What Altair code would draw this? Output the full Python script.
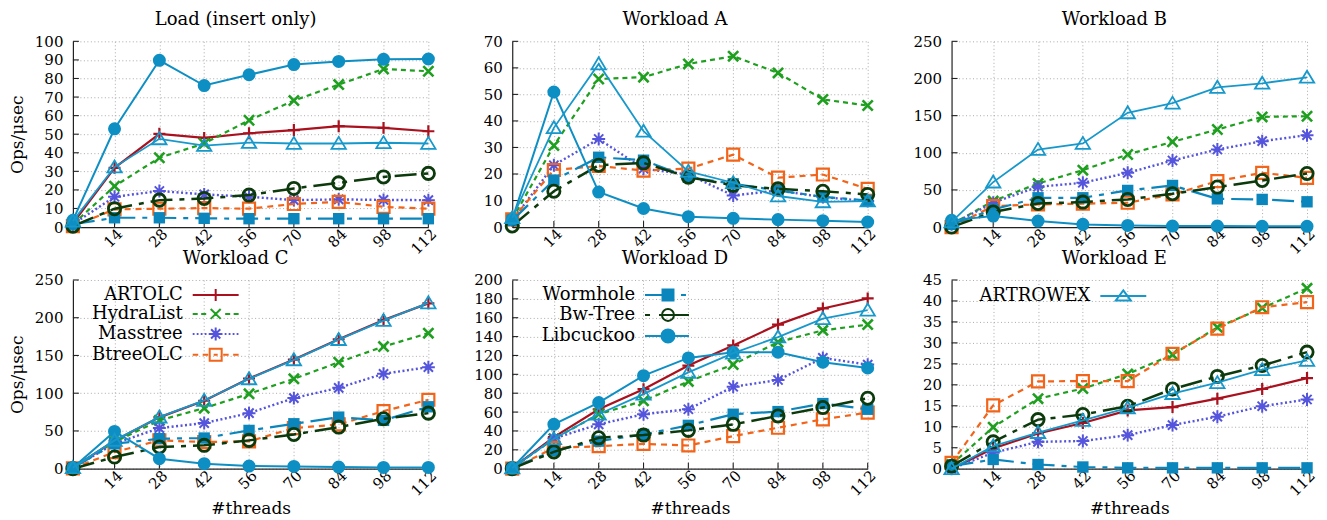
import altair as alt
import pandas as pd

FONT = "DejaVu Serif"

THREADS = [1, 14, 28, 42, 56, 70, 84, 98, 112]
X_TICKS = [14, 28, 42, 56, 70, 84, 98, 112]
SERIES = ["ARTOLC", "HydraList", "Masstree", "BtreeOLC",
          "Wormhole", "Bw-Tree", "Libcuckoo", "ARTROWEX"]

# ---------------- values ----------------
load_artolc = [2.0, 31.9, 50.2, 48.0, 50.5, 52.2, 54.3, 53.4, 51.6]
load_hydra = [1.5, 22.0, 37.3, 45.0, 57.5, 68.1, 76.7, 85.1, 83.9]
load_mass = [1.5, 16.3, 19.4, 17.6, 16.3, 14.5, 14.9, 14.6, 14.5]
load_btree = [0.5, 9.5, 9.9, 10.2, 9.9, 12.4, 13.6, 10.9, 9.9]
load_worm = [1.5, 5.0, 5.0, 4.7, 4.5, 4.5, 4.5, 4.5, 4.5]
load_bw = [0.5, 9.9, 14.5, 15.4, 17.2, 20.8, 23.8, 27.0, 28.9]
load_cuckoo = [3.6, 52.9, 89.8, 76.2, 82.0, 87.5, 89.2, 90.3, 90.5]
load_rowex = [3.2, 32.3, 47.5, 43.9, 45.5, 45.0, 45.0, 45.4, 45.0]

a_hydra = [2.9, 30.7, 55.8, 56.5, 61.5, 64.4, 58.1, 48.1, 45.8]
a_mass = [2.5, 23.3, 33.2, 22.0, 19.8, 11.9, 13.8, 11.3, 9.8]
a_btree = [2.9, 21.5, 23.0, 21.3, 22.0, 27.3, 18.6, 19.8, 14.4]
a_worm = [2.5, 17.7, 26.3, 25.2, 18.8, 16.3, 13.8, 11.4, 10.0]
a_bw = [0.4, 13.5, 23.3, 24.2, 18.8, 15.7, 14.4, 13.5, 12.3]
a_cuckoo = [2.9, 50.9, 13.2, 7.0, 3.9, 3.3, 2.8, 2.4, 1.9]
a_rowex = [3.5, 37.4, 61.5, 36.1, 21.0, 16.7, 11.7, 9.5, 9.8]

b_hydra = [3.6, 35.0, 58.7, 76.6, 97.7, 114.7, 131.3, 148.3, 149.2]
b_mass = [3.6, 32.7, 54.2, 59.6, 73.0, 89.6, 104.4, 115.6, 123.7]
b_btree = [0.0, 28.2, 30.5, 31.4, 32.7, 43.9, 61.8, 73.0, 66.3]
b_worm = [3.6, 23.7, 39.4, 39.4, 49.3, 56.0, 38.0, 37.2, 34.0]
b_bw = [0.0, 20.2, 31.8, 33.6, 37.2, 44.8, 53.8, 62.7, 72.1]
b_cuckoo = [9.0, 14.8, 8.1, 3.6, 2.2, 1.3, 1.3, 1.0, 1.0]
b_rowex = [7.0, 60.5, 104.4, 112.5, 153.7, 166.7, 188.0, 193.5, 201.6]

c_artolc = [1.3, 37.0, 68.0, 90.0, 119.5, 144.5, 171.5, 197.0, 219.0]
c_hydra = [1.3, 35.3, 64.0, 80.2, 99.2, 119.0, 141.0, 161.8, 179.5]
c_mass = [1.3, 33.0, 53.8, 60.4, 73.6, 93.5, 107.1, 125.7, 134.5]
c_btree = [0.5, 22.0, 37.5, 35.3, 36.2, 53.8, 58.6, 76.3, 91.3]
c_worm = [1.3, 33.0, 39.7, 40.6, 50.7, 59.5, 68.3, 64.0, 82.0]
c_bw = [0.0, 15.4, 28.7, 30.9, 37.5, 45.4, 55.1, 66.1, 73.6]
c_cuckoo = [1.3, 49.4, 13.2, 6.6, 3.5, 3.0, 2.2, 1.7, 1.7]
c_rowex = [1.3, 37.5, 68.3, 90.4, 119.0, 144.2, 171.0, 196.2, 219.6]

d_artolc = [0.7, 33.5, 63.0, 84.3, 109.3, 130.6, 152.7, 169.8, 180.4]
d_hydra = [0.7, 31.7, 57.7, 71.9, 92.5, 110.3, 134.2, 146.6, 152.7]
d_mass = [0.7, 32.0, 47.0, 57.7, 63.0, 86.8, 94.0, 117.4, 110.3]
d_btree = [0.0, 22.0, 23.8, 26.3, 24.6, 34.5, 43.4, 52.3, 59.4]
d_worm = [0.7, 19.2, 29.2, 36.3, 45.9, 57.7, 60.5, 69.0, 63.0]
d_bw = [0.0, 17.8, 32.7, 35.6, 40.6, 47.0, 55.9, 64.8, 74.7]
d_cuckoo = [0.7, 47.0, 70.1, 98.6, 117.4, 123.5, 123.5, 112.8, 106.8]
d_rowex = [0.7, 31.7, 57.7, 79.0, 102.1, 122.4, 139.5, 159.0, 168.0]

e_artolc = [0.0, 4.8, 8.4, 10.9, 13.9, 14.7, 16.7, 19.0, 21.6]
e_hydra = [1.0, 9.9, 16.7, 19.1, 22.6, 27.2, 33.7, 38.3, 43.0]
e_mass = [0.0, 3.8, 6.4, 6.6, 8.0, 10.4, 12.4, 14.9, 16.5]
e_btree = [1.4, 15.1, 20.8, 20.9, 20.9, 27.4, 33.4, 38.5, 39.7]
e_worm = [0.6, 2.2, 1.0, 0.4, 0.2, 0.2, 0.2, 0.2, 0.2]
e_bw = [0.6, 6.4, 11.7, 12.9, 14.9, 19.0, 22.0, 24.6, 27.8]
e_rowex = [0.0, 5.4, 8.6, 11.5, 14.5, 17.9, 20.5, 23.6, 25.8]

load_yticks = [0, 10, 20, 30, 40, 50, 60, 70, 80, 90, 100]
a_yticks = [0, 10, 20, 30, 40, 50, 60, 70]
b_yticks = [0, 50, 100, 150, 200, 250]
c_yticks = [0, 50, 100, 150, 200, 250]
d_yticks = [0, 20, 40, 60, 80, 100, 120, 140, 160, 180, 200]
e_yticks = [0, 5, 10, 15, 20, 25, 30, 35, 40, 45]

# ---------------- styles ----------------
PLUS = "M-1,0H1M0,-1V1"
CROSS = "M-0.85,-0.85L0.85,0.85M-0.85,0.85L0.85,-0.85"
STAR = ("M-1.08,0H1.08M0,-1.08V1.08M-0.77,-0.77L0.77,0.77"
        "M-0.77,0.77L0.77,-0.77")
SQUARE = "M-1,-1H1V1H-1Z"
FSQUARE = "M-0.95,-0.95H0.95V0.95H-0.95Z"
TRI = "M0,-1.1L1.2,0.9L-1.2,0.9Z"

STYLE = {
    "ARTOLC":    dict(color="#a8111d", dash=None, lw=2.2, shape=PLUS, size=144, filled=False, mw=2.2),
    "HydraList": dict(color="#1f9f1f", dash=[5, 4], lw=2.2, shape=CROSS, size=144, filled=False, mw=2.6),
    "Masstree":  dict(color="#5454dc", dash=[2, 2.5], lw=2.4, shape=STAR, size=144, filled=False, mw=2.0),
    "BtreeOLC":  dict(color="#f26419", dash=[6, 5], lw=2.2, shape=SQUARE, size=144, filled=False, mw=2.2),
    "Wormhole":  dict(color="#0a86bd", dash=[22, 7, 5, 7], lw=2.2, shape=FSQUARE, size=144, filled=True, mw=1),
    "Bw-Tree":   dict(color="#0c3a0c", dash=[22, 7, 5, 7], lw=2.5, shape="circle", size=150, filled=False, mw=2.8),
    "Libcuckoo": dict(color="#0e8fc4", dash=None, lw=2.0, shape="circle", size=170, filled=True, mw=1),
    "ARTROWEX":  dict(color="#1798cb", dash=None, lw=1.8, shape=TRI, size=144, filled=False, mw=1.8),
}
AXIS_COLOR = "#222222"

# legend sample paths (px offsets measured from the label's right edge)
U = 5.0  # px per path unit for symbolSize 100


def _p(v):
    return f"{v / U:.2f}"


def legend_path(name, rrel):
    def seg(a, b):
        return f"M{_p(rrel + a)},0H{_p(rrel + b)}"

    m = rrel + 33
    if name == "ARTOLC":
        segs = [(10, 56)]
        mk = f"M{_p(m - 6)},0H{_p(m + 6)}M{_p(m)},{_p(-6)}V{_p(6)}"
    elif name == "HydraList":
        segs = [(10, 15), (18.5, 23.5), (42.5, 47.5), (51, 56)]
        mk = (f"M{_p(m - 5)},{_p(-5)}L{_p(m + 5)},{_p(5)}"
              f"M{_p(m - 5)},{_p(5)}L{_p(m + 5)},{_p(-5)}")
    elif name == "Masstree":
        segs = [(x, x + 1.8) for x in (10, 14, 18, 22, 26, 38, 42, 46, 50, 54)]
        mk = (f"M{_p(m - 6.5)},0H{_p(m + 6.5)}M{_p(m)},{_p(-6.5)}V{_p(6.5)}"
              f"M{_p(m - 4.6)},{_p(-4.6)}L{_p(m + 4.6)},{_p(4.6)}"
              f"M{_p(m - 4.6)},{_p(4.6)}L{_p(m + 4.6)},{_p(-4.6)}")
    elif name == "BtreeOLC":
        segs = [(10, 15.5), (20, 25.5), (31, 35), (40.5, 46), (50.5, 56)]
        mk = f"M{_p(m - 6)},{_p(-6)}H{_p(m + 6)}V{_p(6)}H{_p(m - 6)}Z"
    elif name == "Wormhole":
        segs = [(10, 33), (46, 51)]
        mk = f"M{_p(m - 5.5)},{_p(-5.5)}H{_p(m + 5.5)}V{_p(5.5)}H{_p(m - 5.5)}Z"
    elif name == "Bw-Tree":
        segs = [(10, 15), (24, 54)]
        r = 6
        mk = (f"M{_p(m - r)},0A{_p(r)},{_p(r)} 0 1,0 {_p(m + r)},0"
              f"A{_p(r)},{_p(r)} 0 1,0 {_p(m - r)},0Z")
    elif name == "Libcuckoo":
        segs = [(10, 54)]
        r = 6.5
        mk = (f"M{_p(m - r)},0A{_p(r)},{_p(r)} 0 1,0 {_p(m + r)},0"
              f"A{_p(r)},{_p(r)} 0 1,0 {_p(m - r)},0Z")
    else:  # ARTROWEX
        segs = [(10, 56)]
        mk = f"M{_p(m)},{_p(-5.5)}L{_p(m + 7.5)},{_p(4.5)}L{_p(m - 7.5)},{_p(4.5)}Z"
    return "".join(seg(a, b) for a, b in segs) + mk


PANELS = [
    dict(title="Load (insert only)", ymax=100, yticks=load_yticks, row=0, left=True,
         data={"ARTOLC": load_artolc, "HydraList": load_hydra, "Masstree": load_mass,
               "BtreeOLC": load_btree, "Wormhole": load_worm, "Bw-Tree": load_bw,
               "Libcuckoo": load_cuckoo, "ARTROWEX": load_rowex}, legend=None),
    dict(title="Workload A", ymax=70, yticks=a_yticks, row=0, left=False,
         data={"HydraList": a_hydra, "Masstree": a_mass, "BtreeOLC": a_btree,
               "Wormhole": a_worm, "Bw-Tree": a_bw, "Libcuckoo": a_cuckoo,
               "ARTROWEX": a_rowex}, legend=None),
    dict(title="Workload B", ymax=250, yticks=b_yticks, row=0, left=False,
         data={"HydraList": b_hydra, "Masstree": b_mass, "BtreeOLC": b_btree,
               "Wormhole": b_worm, "Bw-Tree": b_bw, "Libcuckoo": b_cuckoo,
               "ARTROWEX": b_rowex}, legend=None),
    dict(title="Workload C", ymax=250, yticks=c_yticks, row=1, left=True,
         data={"ARTOLC": c_artolc, "HydraList": c_hydra, "Masstree": c_mass,
               "BtreeOLC": c_btree, "Wormhole": c_worm, "Bw-Tree": c_bw,
               "Libcuckoo": c_cuckoo, "ARTROWEX": c_rowex},
         legend=dict(names=["ARTOLC", "HydraList", "Masstree", "BtreeOLC"], R=110, y=6)),
    dict(title="Workload D", ymax=200, yticks=d_yticks, row=1, left=False,
         data={"ARTOLC": d_artolc, "HydraList": d_hydra, "Masstree": d_mass,
               "BtreeOLC": d_btree, "Wormhole": d_worm, "Bw-Tree": d_bw,
               "Libcuckoo": d_cuckoo, "ARTROWEX": d_rowex},
         legend=dict(names=["Wormhole", "Bw-Tree", "Libcuckoo"], R=123, y=6)),
    dict(title="Workload E", ymax=45, yticks=e_yticks, row=1, left=False,
         data={"ARTOLC": e_artolc, "HydraList": e_hydra, "Masstree": e_mass,
               "BtreeOLC": e_btree, "Wormhole": e_worm, "Bw-Tree": e_bw,
               "ARTROWEX": e_rowex},
         legend=dict(names=["ARTROWEX"], R=139, y=7)),
]

W = 356
HEIGHTS = [186, 189]
LEG_FONT = 18
ENTRY = LEG_FONT  # legend entry size = max(sqrt(size)+stroke, fontSize)
TICK_LEN = 6


def make_panel(p):
    rows = []
    for s, vals in p["data"].items():
        for t, v in zip(THREADS, vals):
            rows.append({"threads": t, "value": v, "series": s})
    df = pd.DataFrame(rows)

    bottom = p["row"] == 1
    x_axis = alt.Axis(values=X_TICKS, labelAngle=-45, labelAlign="right",
                      labelBaseline="middle", labelPadding=4, labelOffset=5,
                      title="#threads" if bottom else None, titlePadding=2)
    y_axis = alt.Axis(values=p["yticks"], labelPadding=10,
                      title="Ops/μsec" if p["left"] else None, titlePadding=8)
    xenc = alt.X("threads:Q", scale=alt.Scale(domain=[1, 112], nice=False, zero=False),
                 axis=x_axis)
    yenc = alt.Y("value:Q", scale=alt.Scale(domain=[0, p["ymax"]], nice=False),
                 axis=y_axis)

    layers = []
    # inward tick marks on the two axes
    ytick_df = pd.DataFrame({"value": p["yticks"], "threads": [1] * len(p["yticks"])})
    xtick_df = pd.DataFrame({"threads": X_TICKS, "value": [0] * len(X_TICKS)})
    layers.append(alt.Chart(ytick_df).mark_tick(orient="horizontal", size=TICK_LEN,
                                                thickness=1.1, color=AXIS_COLOR,
                                                xOffset=TICK_LEN / 2, opacity=1)
                  .encode(x=xenc, y=yenc))
    layers.append(alt.Chart(xtick_df).mark_tick(orient="vertical", size=TICK_LEN,
                                                thickness=1.1, color=AXIS_COLOR,
                                                yOffset=-TICK_LEN / 2, opacity=1)
                  .encode(x=xenc, y=yenc))

    for s in SERIES:
        if s not in p["data"]:
            continue
        st = STYLE[s]
        filt = alt.FieldEqualPredicate(field="series", equal=s)
        lkw = dict(color=st["color"], strokeWidth=st["lw"])
        if st["dash"]:
            lkw["strokeDash"] = st["dash"]
        layers.append(alt.Chart(df).mark_line(**lkw).encode(x=xenc, y=yenc)
                      .transform_filter(filt))
        layers.append(alt.Chart(df).mark_point(shape=st["shape"], size=st["size"],
                                               filled=st["filled"], color=st["color"],
                                               strokeWidth=st["mw"], opacity=1)
                      .encode(x=xenc, y=yenc).transform_filter(filt))

    if p["legend"]:
        lg = p["legend"]
        names = lg["names"]
        L = lg["R"] - ENTRY
        rrel = ENTRY / 2 + L
        paths = [legend_path(n, rrel) for n in names]
        strokes = [STYLE[n]["color"] for n in names]
        fills = [STYLE[n]["color"] if STYLE[n]["filled"] else "transparent" for n in names]
        leg = alt.Legend(orient="none", legendX=0, legendY=lg["y"], title=None,
                         labelFont=FONT, labelFontSize=LEG_FONT, labelColor="black",
                         labelAlign="right", labelBaseline="middle", labelOffset=L,
                         labelLimit=400, symbolSize=100, symbolStrokeWidth=2,
                         symbolFillColor="transparent", symbolStrokeColor="black",
                         symbolOpacity=1, rowPadding=0, padding=0)
        layers.append(
            alt.Chart(df).mark_point(filled=False, opacity=1, size=100, strokeWidth=2)
            .encode(x=xenc, y=yenc,
                    shape=alt.Shape("series:N", scale=alt.Scale(domain=names, range=paths),
                                    legend=leg),
                    stroke=alt.Stroke("series:N", scale=alt.Scale(domain=names, range=strokes),
                                      legend=leg),
                    fill=alt.Fill("series:N", scale=alt.Scale(domain=names, range=fills),
                                  legend=leg))
            .transform_filter("false")
        )

    title = alt.TitleParams(p["title"], dx=-15, offset=5)
    return alt.layer(*layers).properties(width=W, height=HEIGHTS[p["row"]], title=title)


chart = alt.concat(*[make_panel(p) for p in PANELS], columns=3,
                   spacing={"row": 53, "column": 84}, bounds="flush")

chart = (chart.resolve_scale(shape="independent", stroke="independent", fill="independent")
         .properties(padding={"left": 0, "top": 3, "right": 0, "bottom": 0})
         .configure_view(strokeWidth=0)
         .configure_axis(labelFont=FONT, labelFontSize=15, labelColor="black",
                         titleFont=FONT, titleFontSize=17, titleFontWeight="normal",
                         titleColor="black", domainColor=AXIS_COLOR, domainWidth=1.2,
                         ticks=False, grid=True, gridColor="#aaaaaa", gridDash=[1, 2.5],
                         gridWidth=1)
         .configure_title(font=FONT, fontSize=18, fontWeight="normal", color="black",
                          anchor="middle", frame="group"))

chart.save("out.html", embed_options={"renderer": "svg", "actions": False})
